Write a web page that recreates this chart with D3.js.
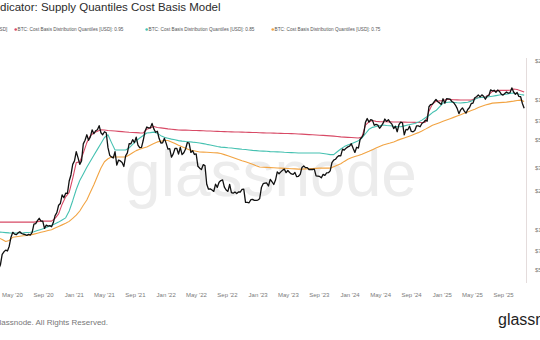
<!DOCTYPE html>
<html>
<head>
<meta charset="utf-8">
<script src="https://cdn.jsdelivr.net/npm/d3@7"></script>
<style>
  html, body { margin: 0; padding: 0; background: #fff; overflow: hidden; }
  svg { display: block; }
  text { font-family: "Liberation Sans", Arial, Helvetica, sans-serif; }
</style>
</head>
<body>
<svg id="chart" width="540" height="340"></svg>
<script>
// Weekly BTC price (USD), Mondays starting 2020-03-09
const priceStart = new Date(2020, 2, 9);
const btcPrice = [
  // 2020
  5000, 5400, 6500, 6800,
  7000, 6900, 7500, 8800,
  9600, 9300, 9200, 9500,
  9700, 9400, 9300, 9200, 9100,
  9250, 9150, 9600, 11100,
  11200, 11800, 12300, 11700, 11700,
  10300, 10900, 10700, 10800,
  10600, 11400, 12900, 13600,
  15500, 16000, 18600, 17700, 19200,
  19100, 23800, 26500, 32000,
  // 2021
  34000, 40000, 36000, 32000,
  34000, 46000, 49000, 54000,
  49000, 52000, 59000, 55000, 58000,
  59000, 63500, 56000, 54000,
  57000, 56000, 43000, 37500, 36500,
  35800, 40000, 31600, 34500,
  34000, 33000, 30800, 37200,
  39200, 46200, 46000, 49500, 47000,
  51800, 44900, 43000, 43200,
  49000, 57500, 62000, 61000,
  61000, 66000, 60000, 56500, 57500,
  50500, 46700, 46900, 50700,
  // 2022
  46400, 41900, 42200, 36300, 38500,
  42400, 42500, 38300, 43200,
  38000, 39300, 42000, 47100,
  46600, 39500, 40800, 38100,
  38500, 30900, 29900, 29200, 31800,
  31300, 22500, 20600, 20700,
  20300, 19800, 22500, 21300,
  23300, 24000, 24300, 21400, 20300,
  19800, 22400, 19400, 19200,
  19600, 19100, 19600, 19600, 20500,
  20600, 16300, 16300, 16200,
  17100, 17200, 16900, 16900,
  // 2023
  17000, 17400, 21200, 22700, 22900,
  23000, 21800, 24500, 23500,
  22400, 24200, 28000, 27100,
  28000, 28800, 29400, 27600,
  28700, 27700, 27000, 26800, 27700,
  25700, 25900, 26800, 30300,
  31100, 30200, 30200, 29200, 29300,
  29200, 29400, 26100, 26000,
  25800, 25200, 26800, 26300,
  27500, 27600, 28500, 33000, 34500,
  35000, 36500, 37400, 37200,
  41900, 41200, 42600, 43600,
  // 2024
  44200, 46100, 42500, 39500, 43300,
  42700, 49900, 51800, 54500,
  67300, 72100, 67600, 70700,
  69700, 63900, 64900, 64100, 60600,
  63100, 66300, 71400, 68500,
  70500, 67300, 65200, 60300,
  62800, 57000, 64700, 67500, 66800,
  54000, 59400, 59000, 62800,
  57300, 57000, 58200, 63300, 63300,
  62300, 66000, 67400, 69900,
  68800, 88700, 92300, 93000,
  97300, 101100, 97100, 95000, 92500,
  // 2025
  102200, 94500, 102200, 102000,
  101500, 97400, 95600, 91500,
  86200, 78500, 84000, 87000, 82500,
  79200, 84500, 87500, 94000,
  94700, 104000, 106000, 109500,
  105800, 109600, 106800, 101300, 107100,
  108300, 119800, 117400, 118800,
  114700, 119300, 116300, 111000,
  109000, 112100, 115300, 112700, 114000,
  124000, 115200, 110700, 114100,
  106500, 105900, 94000, 86500
];

// Cost basis distribution quantiles (USD), every second Monday from 2020-03-09
const quantileStart = new Date(2020, 2, 9);
const costBasis95 = [
  11500, 11500, 11500, 11500, 11500, 11500, 11500, 11500, 11500, 11500, 11500,
  11600, 11700, 11700, 11700, 11700,
  12300, 13300, 15800, 18000, 19500, 25000,
  33000, 33500, 39000, 47000, 53000, 56000, 57500, 59000, 58800, 58300,
  58000, 57700, 57400, 57100, 56800, 56500, 56300, 56100, 55900, 55800,
  59500, 61000, 62500, 61500, 61000, 60500,
  60000, 59600, 59200, 58800, 58700, 58600, 58500, 58300, 58200, 58100,
  58000, 57800, 57700, 57500, 57400, 57200, 57100, 57000, 56900, 56800,
  56700, 56600, 56500, 56400, 56300, 56200, 56000, 55900, 55800, 55700,
  55600, 55500, 55400, 55300, 55200, 55100, 55000, 54800, 54600, 54400,
  54200, 54000, 53800, 53600, 53400, 53200, 53000, 52700, 52400, 52000,
  51800, 51600, 51400, 51200, 51000,
  52000, 64000, 68000, 69500, 68500,
  68200, 68000, 68000, 67900, 67800, 67700, 67700, 67600, 67500, 67400, 67300, 67200, 67200, 67500,
  82000, 93000, 97500, 98500, 99000, 101000,
  100800, 100500, 100300, 100100, 100000, 99900, 99800,
  102000, 104500, 105000, 105500, 110000, 116500, 117500, 119000, 118500, 118500, 119000, 121500, 120500, 118000, 115000
];
const costBasis85 = [
  9650, 9600, 9550, 9500, 9480, 9480, 9480, 9500, 9560, 9600,
  9700, 9900, 10100, 10300, 10580, 10850, 11150, 11500, 11950, 12400,
  14000, 16800, 20500, 24000, 27000, 30400, 33800, 37600, 41700, 46300,
  51500, 54000, 47000, 41200, 41200, 41200, 41200, 42800, 45500, 48500,
  51000, 53300, 55700, 56100, 56600, 55400, 53200, 51600, 50800, 50000,
  49400, 48700, 48300, 48000, 47800, 47400, 47100, 46700, 46200, 45600,
  45100, 44500, 43900, 43400, 43200, 42900, 42700, 42400, 42100, 41800,
  41600, 41300, 41000, 40800, 40500, 40400, 40300, 40100, 40000, 39900,
  39800, 39600, 39500, 39400, 39300, 39100, 39100, 39100, 39100, 39100,
  39100, 39100, 38800, 38400, 38000, 38000, 40000, 42000, 43800, 45000,
  46100, 47300, 48500, 51000, 55000, 59500, 61600, 62600, 63400, 64200,
  63700, 63300, 62800, 62400, 62200, 63200, 64200, 65100, 66000, 67600,
  70000, 73000, 76000, 80000, 83000, 88500, 94800, 95700, 96500, 95800,
  95200, 94900, 95500, 96200, 98000, 101500, 104000, 104600, 105200, 106000,
  107000, 108100, 109200, 110100, 111000, 112400, 113200, 111600, 110200, 109000
];
const costBasis75 = [
  8700, 8450, 8150, 8300, 8800, 8880, 8950, 9020, 9080, 9160,
  9300, 9450, 9600, 9750, 9900, 10050, 10350, 10650, 10950, 11250,
  11650, 12300, 13000, 14000, 15500, 17000, 19500, 22300, 25900, 30000,
  33500, 35300, 36400, 36400, 36400, 36400, 36400, 37800, 39300, 40800,
  41800, 42700, 43500, 44900, 46300, 47600, 48200, 48800, 48800, 47500,
  46200, 44800, 43700, 42600, 41400, 40900, 40400, 39800, 39700, 39600,
  39500, 39300, 39200, 38800, 38000, 37200, 36400, 35600, 34800, 34100,
  33500, 32800, 32000, 31200, 30500, 30400, 30300, 30200, 30100, 30000,
  29900, 29800, 29700, 29600, 29500, 29400, 29400, 29500, 29600, 29700,
  29800, 29900, 29900, 29900, 29900, 30700, 31500, 32300, 33700, 35000,
  36000, 36700, 37400, 38300, 39300, 40300, 41500, 42700, 43900, 45100,
  45900, 46700, 47600, 48900, 50000, 51100, 52200, 53400, 54800, 56100,
  57800, 59700, 61800, 64000, 65400, 66900, 68500, 70200, 71800, 73500,
  75300, 77100, 79000, 81000, 83000, 85000, 87400, 89500, 91500, 93000,
  94600, 95000, 95400, 95800, 96300, 97200, 98000, 99000, 99800, 97500
];

const seriesNames = [
  "BTC: Price [USD]",
  "BTC: Cost Basis Distribution Quantiles [USD]: 0.95",
  "BTC: Cost Basis Distribution Quantiles [USD]: 0.85",
  "BTC: Cost Basis Distribution Quantiles [USD]: 0.75"
];
const seriesColors = ["#111111", "#d84a66", "#45c1b1", "#f2a443"];

const yTickValues = [5000, 7000, 10000, 20000, 30000, 50000, 70000, 100000, 200000];
const yTickLabels = ["$5K", "$7K", "$10K", "$20K", "$30K", "$50K", "$70K", "$100K", "$200K"];

const titleText = "Indicator: Supply Quantiles Cost Basis Model";
const footerText = "\u00A9 2025 Glassnode. All Rights Reserved.";
const brandText = "glassnode";

// ---- layout ----
const svg = d3.select("#chart");
const plot = { left: -10, right: 526.5, top: 58, bottom: 283 };

const x = d3.scaleTime()
  .domain([new Date(2020, 4, 1), new Date(2025, 8, 1)])
  .range([12, 503]);
const y = d3.scaleLog()
  .domain([10000, 100000])
  .range([230, 100]);

const priceData = btcPrice.map((v, i) => ({ date: d3.timeWeek.offset(priceStart, i), value: v }));
const qData = arr => arr.map((v, i) => ({ date: d3.timeWeek.offset(quantileStart, 2 * i), value: v }));

// title
svg.append("text")
  .attr("x", -9.6).attr("y", 11)
  .attr("font-size", 11.5).attr("fill", "#2b2b2b")
  .text(titleText);

// legend
const legendDotX = [-31, 15.7, 146.7, 272.7];
const legend = svg.append("g").attr("font-size", 4.7).attr("fill", "#555");
seriesNames.forEach((name, i) => {
  legend.append("circle").attr("cx", legendDotX[i]).attr("cy", 29.5).attr("r", 1.3).attr("fill", seriesColors[i]);
  legend.append("text").attr("x", legendDotX[i] + 1.9).attr("y", 29.5).attr("dy", "0.35em").text(name);
});

// watermark
svg.append("text")
  .attr("x", 271).attr("y", 196)
  .attr("text-anchor", "middle")
  .attr("font-size", 64)
  .attr("fill", "#ececec")
  .text(brandText);

// right axis line
svg.append("line")
  .attr("x1", plot.right).attr("x2", plot.right)
  .attr("y1", plot.top).attr("y2", plot.bottom)
  .attr("stroke", "#e4dcdc").attr("stroke-width", 1);

// axes
const xAxis = d3.axisBottom(x)
  .tickValues(d3.timeMonth.every(4).range(new Date(2020, 4, 1), new Date(2025, 9, 1)))
  .tickFormat(d3.timeFormat("%b '%y"))
  .tickSize(0).tickPadding(5);
const gx = svg.append("g").attr("transform", `translate(0,${288})`).call(xAxis);
gx.select(".domain").remove();
gx.selectAll("text").attr("font-size", 6).attr("fill", "#7a7a7a").style("font-family", null);

const yAxis = d3.axisRight(y)
  .tickValues(yTickValues)
  .tickFormat((d, i) => yTickLabels[i])
  .tickSize(0).tickPadding(8.5);
const gy = svg.append("g").attr("transform", `translate(${plot.right},0)`).call(yAxis);
gy.select(".domain").remove();
gy.selectAll("text").attr("font-size", 6).attr("fill", "#7a7a7a").style("font-family", null);

// lines
svg.append("clipPath").attr("id", "plotClip")
  .append("rect").attr("x", plot.left).attr("y", 40)
  .attr("width", plot.right - plot.left).attr("height", plot.bottom - 40);

const line = d3.line().x(d => x(d.date)).y(d => y(d.value));
const lines = svg.append("g").attr("clip-path", "url(#plotClip)").attr("fill", "none")
  .attr("stroke-linejoin", "round");
[[costBasis95, 1], [costBasis85, 2], [costBasis75, 3]].forEach(([arr, ci]) => {
  lines.append("path").datum(qData(arr))
    .attr("d", line).attr("stroke", seriesColors[ci]).attr("stroke-width", 1.1);
});
lines.append("path").datum(priceData)
  .attr("d", line).attr("stroke", seriesColors[0]).attr("stroke-width", 1.3);

// footer
svg.append("text")
  .attr("x", 108).attr("y", 324.5)
  .attr("text-anchor", "end")
  .attr("font-size", 8).attr("fill", "#777")
  .text(footerText);
svg.append("text")
  .attr("x", 498).attr("y", 325)
  .attr("font-size", 16).attr("fill", "#1f1f1f")
  .text(brandText);
</script>
</body>
</html>
